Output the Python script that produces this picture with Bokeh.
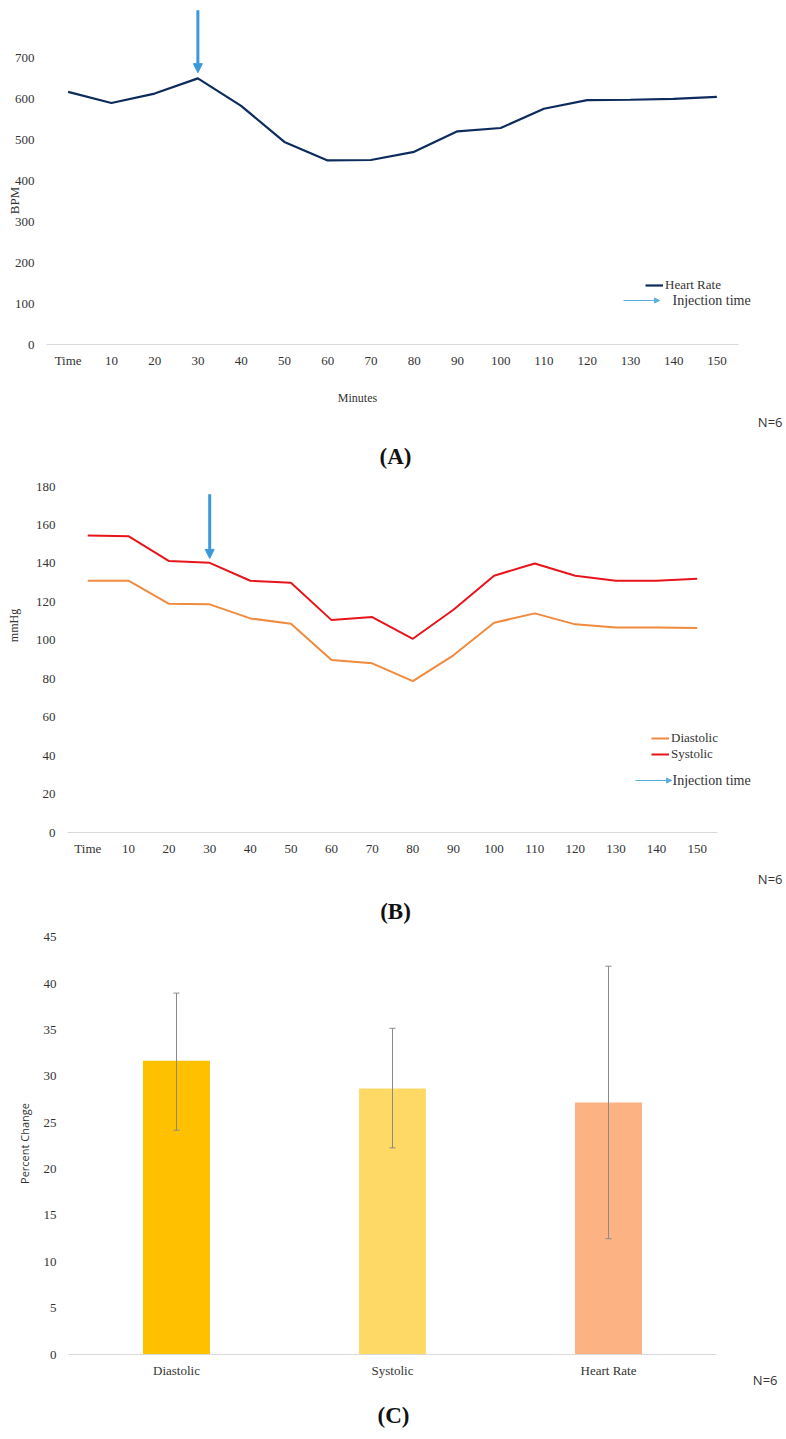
from math import pi
from bokeh.plotting import figure
from bokeh.models import (FactorRange, Range1d, FixedTicker, Label, Arrow, NormalHead,
                          Legend, LegendItem, ColumnDataSource, Whisker, TeeHead,
                          LinearAxis, CategoricalAxis, CategoricalScale, LinearScale)
from bokeh.embed import file_html
from bokeh.resources import INLINE

# ---------------- data ----------------
minutes = ["Time", "10", "20", "30", "40", "50", "60", "70", "80", "90",
           "100", "110", "120", "130", "140", "150"]
heart_rate = [616, 589, 612, 649, 582, 494, 449, 450, 470, 520, 528, 575, 596, 597, 599, 604]
systolic = [154.5, 154.2, 141.2, 140.3, 131.0, 130.0, 110.5, 112.1, 100.8, 115.9,
            133.6, 140.0, 133.6, 131.0, 131.0, 132.0]
diastolic = [131.0, 131.0, 119.0, 118.7, 111.4, 108.6, 89.8, 88.0, 78.8, 92.2,
             109.1, 114.0, 108.3, 106.7, 106.7, 106.4]
injection_at = "30"

measures = ["Diastolic", "Systolic", "Heart Rate"]
pct_change = [31.7, 28.7, 27.2]
err_upper = [39.0, 35.2, 41.9]
err_lower = [24.2, 22.3, 12.5]
bar_colors = ["#ffc000", "#ffd966", "#fdb283"]

bpm_ticks = [0, 100, 200, 300, 400, 500, 600, 700]
mmhg_ticks = [0, 20, 40, 60, 80, 100, 120, 140, 160, 180]
pct_ticks = [0, 5, 10, 15, 20, 25, 30, 35, 40, 45]

SERIF = "Liberation Serif"
SANS = "Open Sans"
TXT = "#333333"
AXC = "#d9d9d9"
BLUE = "#3a9ad9"
LBLUE = "#5aaee0"
W, H = 784, 1436


def X(px):
    # page pixel -> synthetic coordinate of the (pixel-sized) base range
    return px - (W - 1) / 2


# one canvas; base ranges map to page pixels (y downwards) for decorations
base_x = FactorRange("_", range_padding=(W - 1) / 2, range_padding_units="absolute")
p = figure(width=W, height=H, x_range=base_x, y_range=Range1d(H, 0),
           x_axis_type=None, y_axis_type=None, output_backend="svg",
           toolbar_location=None, min_border=0)
p.min_border_left = p.min_border_right = p.min_border_top = p.min_border_bottom = 0
p.outline_line_color = None
p.xgrid.grid_line_color = None
p.ygrid.grid_line_color = None


def yrange(zero_px, px_per_unit):
    return Range1d((zero_px - H) / px_per_unit, zero_px / px_per_unit)


def xrange(factors, px_per_cat):
    pad = (W / px_per_cat - len(factors)) / 2
    return FactorRange(*factors, range_padding=pad, range_padding_units="absolute")


p.extra_x_ranges = {"xa": xrange(minutes, 43.25), "xb": xrange(minutes, 40.625),
                    "xc": xrange(measures, 216)}
p.extra_x_scales = {"xa": CategoricalScale(), "xb": CategoricalScale(),
                    "xc": CategoricalScale()}
p.extra_y_ranges = {"ya": yrange(344, 0.41), "yb": yrange(832, 1.922),
                    "yc": yrange(1354, 9.267)}
p.extra_y_scales = {"ya": LinearScale(), "yb": LinearScale(), "yc": LinearScale()}


def axes(xr, yr, ticks, nfac):
    ya = LinearAxis(x_range_name=xr, y_range_name=yr, fixed_location=0,
                    ticker=FixedTicker(ticks=ticks))
    xa = CategoricalAxis(x_range_name=xr, y_range_name=yr, fixed_location=0,
                         bounds=(0, nfac))
    for a in (ya, xa):
        a.major_tick_line_color = None
        a.minor_tick_line_color = None
        a.major_tick_out = 0
        a.major_tick_in = 0
        a.major_label_text_font = SERIF
        a.major_label_text_font_size = "13px"
        a.major_label_text_color = TXT
    ya.axis_line_color = None
    ya.major_label_standoff = 12
    xa.axis_line_color = AXC
    xa.axis_line_width = 1
    xa.major_label_standoff = 8
    p.add_layout(ya, "left")
    p.add_layout(xa, "below")


def lab(x, y, text, font=SERIF, size="13px", angle=0, bold=False, align="center"):
    p.add_layout(Label(x=X(x), y=y, text=text, text_font=font, text_font_size=size,
                       text_color="#111111" if bold else TXT, angle=angle,
                       text_align=align, text_baseline="middle",
                       text_font_style="bold" if bold else "normal"))


def legend(items, x, y_bottom):
    lg = Legend(items=items, location=(x, H - y_bottom), padding=0, margin=0, spacing=0,
                glyph_width=18, glyph_height=14, label_height=14, label_standoff=2,
                label_text_font=SERIF, label_text_font_size="13px", label_text_color=TXT,
                background_fill_alpha=0, border_line_alpha=0)
    p.add_layout(lg)


def inj_legend(x0, x1, y, tx):
    p.add_layout(Arrow(end=NormalHead(size=5, fill_color=LBLUE, line_color=LBLUE),
                       x_start=X(x0), y_start=y, x_end=X(x1), y_end=y,
                       line_color=LBLUE, line_width=1))
    lab(tx, y, "Injection  time", size="14px", align="left")


xi = minutes.index(injection_at) + 0.5
ii = minutes.index(injection_at)

# ---------------- panel A ----------------
axes("xa", "ya", bpm_ticks, len(minutes))
rA = p.line(minutes, heart_rate, line_color="#0d2b5c", line_width=2.2,
            x_range_name="xa", y_range_name="ya")
p.add_layout(Arrow(end=NormalHead(size=9, fill_color=BLUE, line_color=BLUE),
                   x_start=xi, y_start=815, x_end=xi, y_end=heart_rate[ii] + 14,
                   line_color=BLUE, line_width=3, x_range_name="xa", y_range_name="ya"))
legend([LegendItem(label="Heart Rate", renderers=[rA])], 645, 293)
inj_legend(623, 659, 300, 672)
lab(357, 397, "Minutes", size="12px")
lab(14, 200, "BPM", angle=pi / 2)
lab(782, 421, "N=6", font=SANS, align="right")
lab(395, 456, "(A)", size="23px", bold=True)

# ---------------- panel B ----------------
axes("xb", "yb", mmhg_ticks, len(minutes))
rD = p.line(minutes, diastolic, line_color="#f08a3e", line_width=2,
            x_range_name="xb", y_range_name="yb")
rS = p.line(minutes, systolic, line_color="#e8141c", line_width=2,
            x_range_name="xb", y_range_name="yb")
p.add_layout(Arrow(end=NormalHead(size=9, fill_color=BLUE, line_color=BLUE),
                   x_start=xi, y_start=176, x_end=xi, y_end=systolic[ii] + 2.3,
                   line_color=BLUE, line_width=3, x_range_name="xb", y_range_name="yb"))
legend([LegendItem(label="Diastolic", renderers=[rD]),
        LegendItem(label="Systolic", renderers=[rS])], 651, 762)
inj_legend(635, 671, 780, 672)
lab(13, 625, "mmHg", size="12px", angle=pi / 2)
lab(782, 878, "N=6", font=SANS, align="right")
lab(395, 911, "(B)", size="23px", bold=True)

# ---------------- panel C ----------------
axes("xc", "yc", pct_ticks, len(measures))
src = ColumnDataSource(dict(m=measures, v=pct_change, up=err_upper, lo=err_lower,
                            c=bar_colors))
p.vbar(x="m", top="v", width=0.31, source=src, fill_color="c", line_color=None,
       x_range_name="xc", y_range_name="yc")
wh = Whisker(base="m", upper="up", lower="lo", source=src,
             line_color="#8a8a8a", line_width=1, level="overlay",
             x_range_name="xc", y_range_name="yc",
             upper_head=TeeHead(size=6, line_color="#8a8a8a", line_width=1),
             lower_head=TeeHead(size=6, line_color="#8a8a8a", line_width=1))
p.add_layout(wh)
lab(24, 1143, "Percent Change", font=SANS, size="11px", angle=pi / 2)
lab(777, 1379, "N=6", font=SANS, align="right")
lab(393, 1415, "(C)", size="23px", bold=True)

open("out.html", "w").write(file_html(p, INLINE))
